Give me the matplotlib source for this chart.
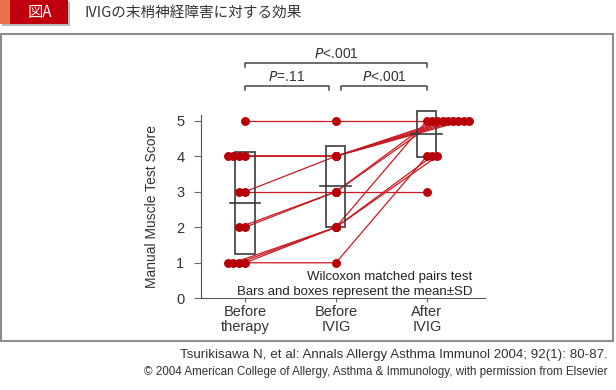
import numpy as np
import matplotlib
matplotlib.use("Agg")
import matplotlib.pyplot as plt
from matplotlib.patches import Rectangle

plt.rcParams['font.family'] = ['Liberation Sans', 'Noto Sans CJK JP', 'DejaVu Sans']

# data: one entry per patient
stages = ["Before\ntherapy", "Before\nIVIG", "After\nIVIG"]
before_therapy = [5, 4, 4, 4, 4, 3, 3, 2, 2, 1, 1, 1, 1]
before_ivig = [5, 4, 4, 4, 4, 4, 3, 3, 3, 2, 2, 2, 1]
after_ivig = [5, 5, 5, 5, 5, 5, 3, 5, 5, 4, 4, 5, 4]
yticks = [0, 1, 2, 3, 4, 5]

red = '#b80008'
line_red = '#c81a20'
box_col = '#3c3c3c'

W, H = 616, 390
fig = plt.figure(figsize=(W / 100, H / 100), dpi=100)

def fx(px):
    return px / W

def fy(py):
    return 1 - py / H

# header
fig.patches.append(Rectangle((fx(2), fy(26)), fx(68), 24 / H, transform=fig.transFigure,
                             facecolor='#b8b8b8', edgecolor='none'))
fig.patches.append(Rectangle((fx(0), fy(24)), fx(10), 24 / H, transform=fig.transFigure,
                             facecolor='#ec7048', edgecolor='none'))
fig.patches.append(Rectangle((fx(10), fy(24)), fx(58), 24 / H, transform=fig.transFigure,
                             facecolor='#c0000c', edgecolor='none'))
fig.text(fx(40), fy(12.5), "図A", color='white', fontsize=11, ha='center', va='center',
         family=['Noto Sans CJK JP', 'DejaVu Sans'])
fig.text(fx(85), fy(12.5), "IVIGの末梢神経障害に対する効果", color='#333333', fontsize=10.5,
         ha='left', va='center', family=['Noto Sans CJK JP', 'DejaVu Sans'])

# frame
fig.patches.append(Rectangle((fx(1), fy(341)), fx(612), 307 / H, transform=fig.transFigure,
                             facecolor='none', edgecolor='#8c8c8c', lw=1.5))

# axes
ax = fig.add_axes([fx(201), fy(298.3), fx(284), (298.3 - 115) / H])
ax.set_xlim(-0.484, 2.64)
ax.set_ylim(0, 5.16)

values = np.array([before_therapy, before_ivig, after_ivig], dtype=float)
n = values.shape[1]

# jitter so repeated scores sit side by side
xs = np.zeros_like(values)
for i in range(n):
    v = values[0, i]
    k = sum(1 for j in range(i) if values[0, j] == v)
    xs[0, i] = 0 - k * 0.064
    xs[1, i] = 1
    v = values[2, i]
    k = sum(1 for j in range(i + 1, n) if values[2, j] == v)
    xs[2, i] = 2 + k * 0.058

for i in range(n):
    ax.plot(xs[:, i], values[:, i], color=line_red, lw=0.9, zorder=2, clip_on=False)

# mean +- SD boxes
for c in range(3):
    m = values[c].mean()
    sd = values[c].std(ddof=1)
    ax.add_patch(Rectangle((c - 0.105, m - sd), 0.21, 2 * sd, facecolor='none',
                           edgecolor=box_col, lw=1.2, zorder=3, clip_on=False))
    ax.plot([c - 0.17, c + 0.17], [m, m], color=box_col, lw=1.2, zorder=3, clip_on=False)

for c in range(3):
    ax.plot(xs[c], values[c], 'o', color=red, ms=5.4, mec=red, zorder=4, clip_on=False)

ax.spines['top'].set_visible(False)
ax.spines['right'].set_visible(False)
ax.spines['left'].set_color('#555555')
ax.spines['bottom'].set_color('#555555')
ax.set_yticks(yticks)
ax.set_xticks(range(3))
ax.set_xticklabels(stages, fontsize=10.5, linespacing=1.05, color='#333333')
ax.tick_params(axis='y', length=5, color='#666666', labelsize=10.5, labelcolor='#333333', pad=7)
ax.tick_params(axis='x', length=3, color='#666666', pad=2)
ax.set_ylabel("Manual Muscle Test Score", fontsize=10, color='#333333', labelpad=12)

ax.text(2.5, 0.6, "Wilcoxon matched pairs test", ha='right', va='center', fontsize=9.5,
        color='#222222')
ax.text(2.5, 0.17, "Bars and boxes represent the mean±SD", ha='right', va='center',
        fontsize=9.5, color='#222222')

# significance brackets
def bracket(x0, x1, y, label):
    ax.plot([x0, x0, x1, x1], [y - 0.12, y, y, y - 0.12], color='#444444', lw=1.1,
            clip_on=False)
    ax.text((x0 + x1) / 2, y + 0.05, label, ha='center', va='bottom', fontsize=10,
            color='#333333')

bracket(0, 2, 6.62, "$\\it{P}$<.001")
bracket(0, 0.92, 5.99, "$\\it{P}$=.11")
bracket(1.06, 2, 5.99, "$\\it{P}$<.001")

# source
fig.text(fx(608), fy(355), "Tsurikisawa N, et al: Annals Allergy Asthma Immunol 2004; 92(1): 80-87.",
         ha='right', va='center', fontsize=9.6, color='#333333')
fig.text(fx(608), fy(372), "© 2004 American College of Allergy, Asthma & Immunology, with permission from Elsevier",
         ha='right', va='center', fontsize=8.4, color='#333333')

fig.savefig("out.png", dpi=100)
